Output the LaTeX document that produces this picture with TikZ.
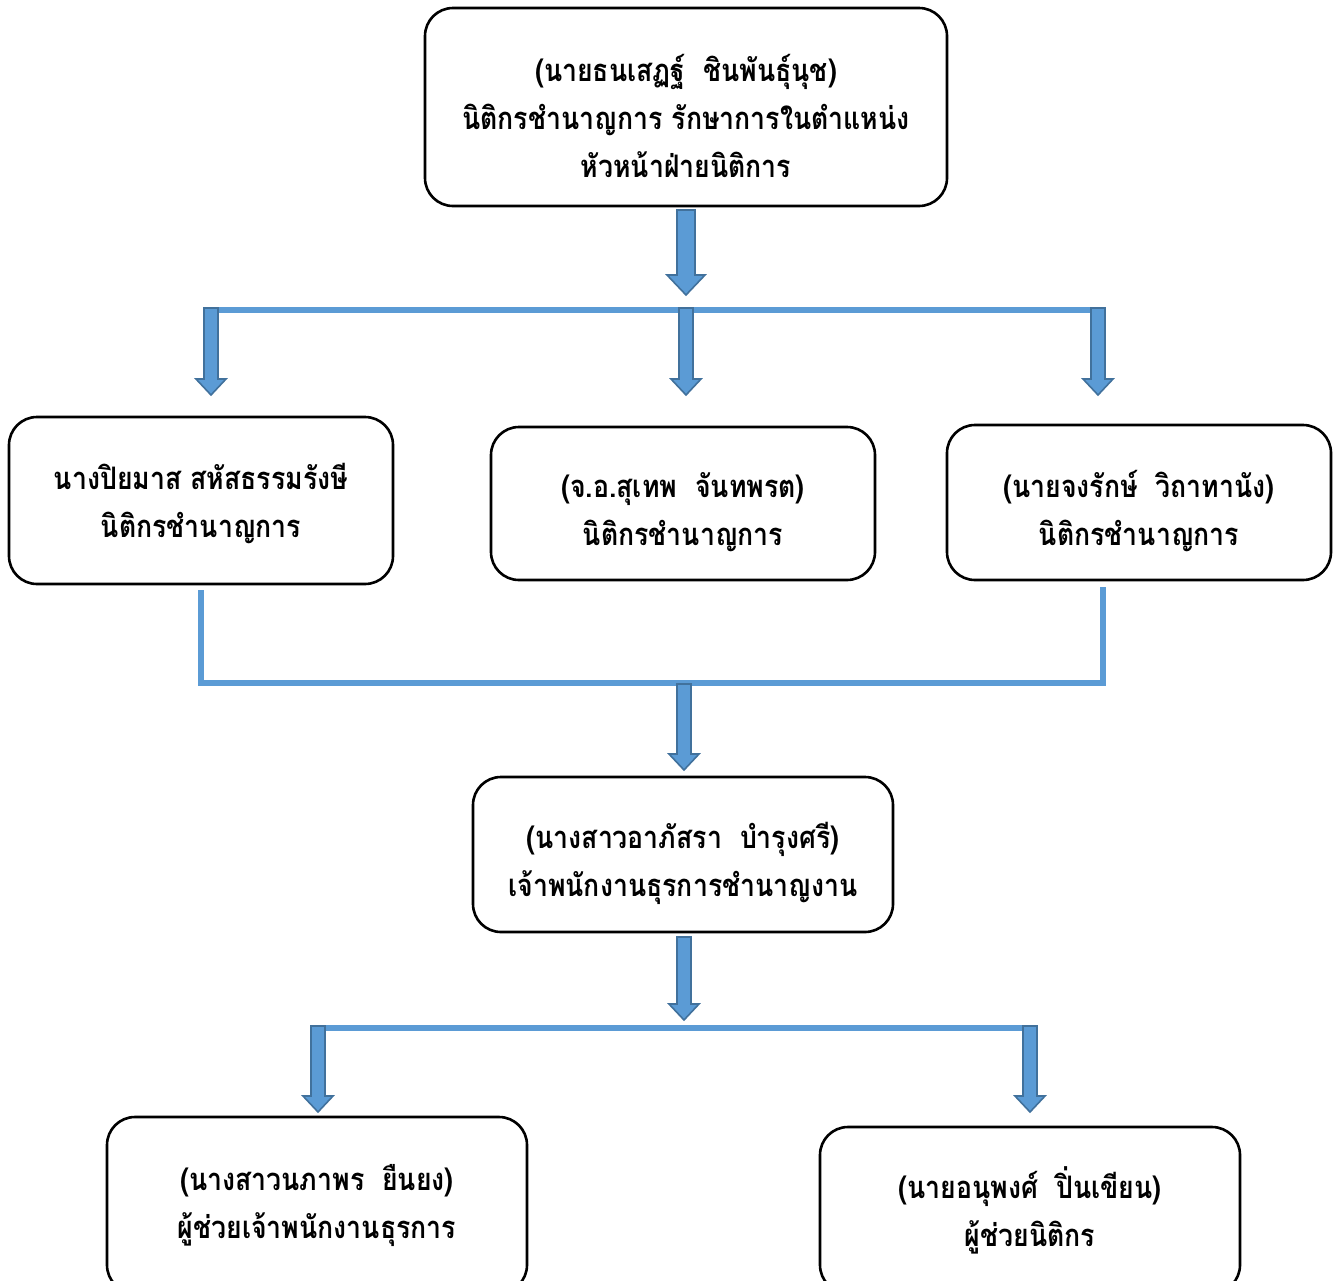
\documentclass[tikz,border=0pt]{standalone}
\usepackage{fontspec}
\newfontfamily\thaifont[Script=Thai,FakeStretch=0.86]{Loma}
\usetikzlibrary{calc}
\definecolor{abl}{HTML}{5B9BD5}
\definecolor{abd}{HTML}{41719C}
\newcommand{\blockarrow}[5]{%
  \filldraw[barr] ($(#1)+(-#3,0)$) -- ($(#2)+(-#3,-#5)$) -- ($(#2)+(-#4,-#5)$) -- (#2)
    -- ($(#2)+(#4,-#5)$) -- ($(#2)+(#3,-#5)$) -- ($(#1)+(#3,0)$) -- cycle;}
\newcommand{\gap}{\ \ }
\begin{document}
\begin{tikzpicture}[x=1pt,y=-1pt,
  box/.style={draw=black, line width=2.6pt, rounded corners=28pt, inner sep=0pt},
  txt/.style={align=center, inner sep=0pt, yshift=-9pt,
    font=\thaifont\bfseries\fontsize{31}{48}\selectfont},
  barr/.style={fill=abl, draw=abd, line width=1.6pt, line join=miter},
  bus/.style={draw=abl, line width=6pt}]
\useasboundingbox[fill=white] (0,0) rectangle (1341,1280);
% boxes
\node[box, minimum width=522pt, minimum height=198pt] (top) at (686,107) {};
\node[box, minimum width=384pt, minimum height=167pt] (left) at (201,500.5) {};
\node[box, minimum width=384pt, minimum height=153pt] (mid) at (683,503.5) {};
\node[box, minimum width=384pt, minimum height=155pt] (right) at (1139,502.5) {};
\node[box, minimum width=420pt, minimum height=155pt] (center) at (683,854.5) {};
\node[box, minimum width=420pt, minimum height=176pt] (bl) at (317,1205) {};
\node[box, minimum width=420pt, minimum height=166pt] (br) at (1030,1210) {};
% texts
\node[txt] (topt) at (top.center) {(นายธนเสฏฐ์\gap ชินพันธุ์นุช)\\นิติกรชำนาญการ รักษาการในตำแหน่ง\\หัวหน้าฝ่ายนิติการ};
\node[txt, yshift=6pt] (leftt) at (left.center) {นางปิยมาส สหัสธรรมรังษี\\นิติกรชำนาญการ};
\node[txt] (midt) at (mid.center) {(จ.อ.สุเทพ\gap จันทพรต)\\นิติกรชำนาญการ};
\node[txt] (rightt) at (right.center) {(นายจงรักษ์\gap วิถาทานัง)\\นิติกรชำนาญการ};
\node[txt] (centert) at (center.center) {(นางสาวอาภัสรา\gap บำรุงศรี)\\เจ้าพนักงานธุรการชำนาญงาน};
\node[txt, yshift=9pt] (blt) at (bl.center) {(นางสาวนภาพร\gap ยืนยง)\\ผู้ช่วยเจ้าพนักงานธุรการ};
\node[txt, yshift=9pt] (brt) at (br.center) {(นายอนุพงศ์\gap ปิ่นเขียน)\\ผู้ช่วยนิติกร};
% coordinates
\coordinate (a0s) at (top.south |- 0,210);
\coordinate (a0t) at (top.south |- 0,295);
\coordinate (b1l) at (207,310);
\coordinate (b1r) at (1105,310);
\coordinate (a1s) at (211,308); \coordinate (a1t) at (211,395);
\coordinate (a2s) at (686,308); \coordinate (a2t) at (686,395);
\coordinate (a3s) at (1098,308); \coordinate (a3t) at (1098,395);
\coordinate (l1) at (201,590); \coordinate (l2) at (201,683);
\coordinate (r1) at (1103,587); \coordinate (r2) at (1103,683);
\coordinate (a4s) at (684,684); \coordinate (a4t) at (684,770);
\coordinate (a5s) at (684,937); \coordinate (a5t) at (684,1020);
\coordinate (b2l) at (312,1028); \coordinate (b2r) at (1036,1028);
\coordinate (a6s) at (318,1026); \coordinate (a6t) at (318,1112);
\coordinate (a7s) at (1030,1026); \coordinate (a7t) at (1030,1112);
% connectors
\draw[bus] (b1l) -- (b1r);
\draw[bus] (l1) -- (l2) -- (r2) -- (r1);
\draw[bus] (b2l) -- (b2r);
\blockarrow{a0s}{a0t}{9}{19}{20}
\blockarrow{a1s}{a1t}{7}{15}{16}
\blockarrow{a2s}{a2t}{7}{15}{16}
\blockarrow{a3s}{a3t}{7}{15}{16}
\blockarrow{a4s}{a4t}{7}{15}{16}
\blockarrow{a5s}{a5t}{7}{15}{16}
\blockarrow{a6s}{a6t}{7}{15}{16}
\blockarrow{a7s}{a7t}{7}{15}{16}
\end{tikzpicture}
\end{document}
